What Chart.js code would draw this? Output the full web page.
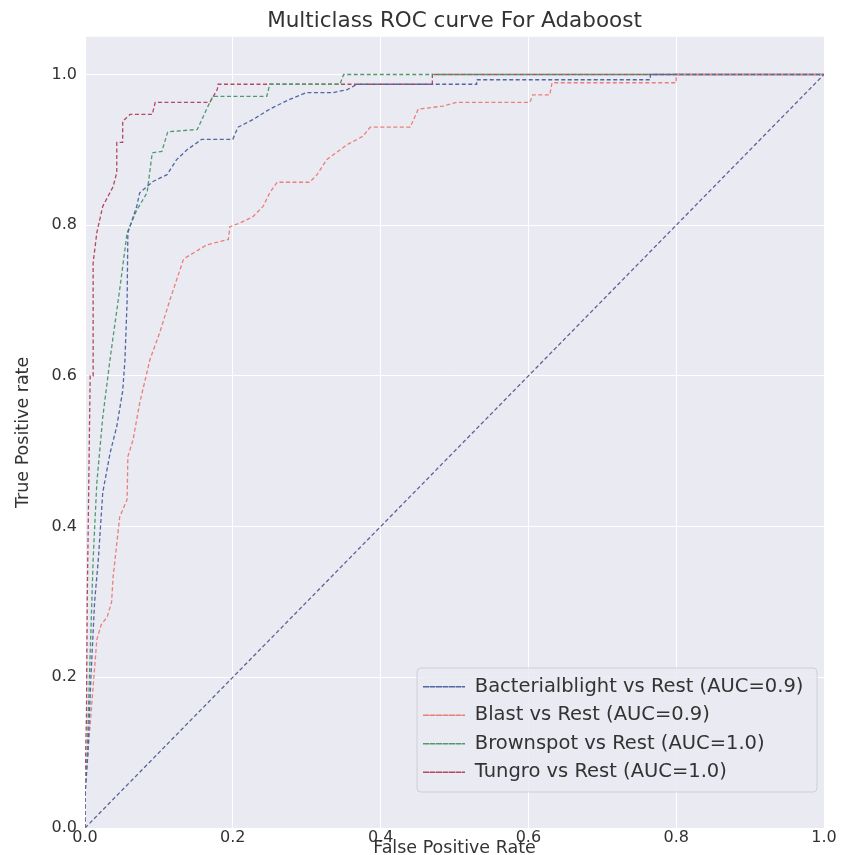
<!DOCTYPE html>
<html><head><meta charset="utf-8">
<script src="https://cdn.jsdelivr.net/npm/chart.js@4.4.0/dist/chart.umd.min.js"></script>
<style>html,body{margin:0;padding:0;background:#fff;}</style>
</head><body>
<canvas id="c" width="844" height="855"></canvas>
<script>
// ---- data ----
const categories = ['Bacterialblight', 'Blast', 'Brownspot', 'Tungro'];
const aucValues = ['0.9', '0.9', '1.0', '1.0'];
const xTicks = [0, 0.2, 0.4, 0.6, 0.8, 1.0];
const yTicks = [0, 0.2, 0.4, 0.6, 0.8, 1.0];

const fprBact = [0, 0, 0.004, 0.008, 0.013, 0.018, 0.024, 0.034, 0.043, 0.051, 0.054, 0.057, 0.058, 0.070, 0.074, 0.092, 0.111, 0.124, 0.138, 0.158, 0.200, 0.207, 0.227, 0.250, 0.277, 0.300, 0.336, 0.355, 0.368, 0.530, 0.530, 0.765, 0.765, 1];
const tprBact = [0, 0.04, 0.10, 0.20, 0.30, 0.356, 0.445, 0.498, 0.533, 0.580, 0.620, 0.700, 0.790, 0.825, 0.843, 0.858, 0.867, 0.887, 0.900, 0.914, 0.914, 0.930, 0.940, 0.954, 0.967, 0.976, 0.976, 0.980, 0.987, 0.987, 0.993, 0.993, 1, 1];

const fprBlast = [0, 0, 0.004, 0.008, 0.012, 0.016, 0.022, 0.030, 0.036, 0.038, 0.047, 0.057, 0.058, 0.065, 0.074, 0.088, 0.101, 0.115, 0.133, 0.138, 0.165, 0.194, 0.196, 0.210, 0.227, 0.241, 0.250, 0.260, 0.304, 0.314, 0.327, 0.355, 0.376, 0.386, 0.440, 0.451, 0.484, 0.503, 0.602, 0.606, 0.629, 0.632, 0.800, 0.800, 1];
const tprBlast = [0, 0.05, 0.10, 0.15, 0.20, 0.25, 0.27, 0.28, 0.30, 0.333, 0.413, 0.436, 0.493, 0.515, 0.564, 0.622, 0.657, 0.701, 0.754, 0.758, 0.774, 0.781, 0.798, 0.803, 0.811, 0.825, 0.843, 0.857, 0.857, 0.867, 0.887, 0.907, 0.918, 0.930, 0.930, 0.954, 0.958, 0.963, 0.963, 0.973, 0.973, 0.989, 0.989, 1, 1];

const fprBrown = [0, 0, 0.003, 0.006, 0.011, 0.016, 0.024, 0.034, 0.047, 0.057, 0.070, 0.084, 0.091, 0.104, 0.112, 0.152, 0.166, 0.173, 0.246, 0.250, 0.345, 0.350, 1];
const tprBrown = [0, 0.05, 0.10, 0.20, 0.356, 0.458, 0.545, 0.623, 0.715, 0.790, 0.820, 0.843, 0.896, 0.898, 0.924, 0.927, 0.957, 0.971, 0.971, 0.987, 0.987, 1, 1];

const fprTung = [0, 0, 0.002, 0.003, 0.005, 0.007, 0.011, 0.011, 0.016, 0.024, 0.038, 0.043, 0.043, 0.051, 0.051, 0.061, 0.091, 0.095, 0.169, 0.179, 0.180, 0.470, 0.470, 1];
const tprTung = [0, 0.06, 0.15, 0.30, 0.45, 0.60, 0.60, 0.75, 0.79, 0.825, 0.851, 0.870, 0.910, 0.910, 0.938, 0.947, 0.947, 0.963, 0.963, 0.980, 0.987, 0.987, 1, 1];

const diagX = [0, 1];
const diagY = [0, 1];

// ---- build ----
const toPts = (xs, ys) => xs.map((x, i) => ({x: x, y: ys[i]}));
const series = [[fprBact, tprBact], [fprBlast, tprBlast], [fprBrown, tprBrown], [fprTung, tprTung]];
const colors = ['#4f67a3', '#ea7f7a', '#4f9a6c', '#b3485f'];

Chart.defaults.font.family = "'DejaVu Sans', sans-serif";
Chart.defaults.color = '#333333';

const datasets = categories.map((c, i) => ({
  label: c + ' vs Rest (AUC=' + aucValues[i] + ')',
  data: toPts(series[i][0], series[i][1]),
  borderColor: colors[i],
  backgroundColor: 'rgba(0,0,0,0)',
  borderWidth: 1.3,
  borderDash: [4, 2.5],
  pointRadius: 0,
  tension: 0,
  fill: false
}));
datasets.push({
  label: 'chance',
  data: toPts(diagX, diagY),
  borderColor: '#5f6394',
  backgroundColor: 'rgba(0,0,0,0)',
  borderWidth: 1.3,
  borderDash: [4, 2.5],
  pointRadius: 0,
  fill: false
});

const bgPlugin = {
  id: 'bg',
  beforeDraw(chart) {
    const {ctx, chartArea: a} = chart;
    ctx.save();
    ctx.fillStyle = '#ffffff';
    ctx.fillRect(0, 0, chart.width, chart.height);
    ctx.fillStyle = '#eaeaf2';
    ctx.fillRect(a.left, a.top, a.right - a.left, a.bottom - a.top);
    ctx.restore();
  }
};

const FRAME = {left: 417, top: 668, width: 400, height: 124};
const LEGPOS = {left: 414, top: 668, width: 420};
const legendPlace = {
  id: 'legendPlace',
  beforeLayout(chart) {
    const lg = chart.legend;
    if (lg) {
      lg._layers = () => [{z: 1, draw: (ca) => lg.draw(ca)}];
    }
  },
  afterLayout(chart) {
    const lg = chart.legend;
    if (!lg) return;
    lg.left = LEGPOS.left; lg.top = LEGPOS.top;
    lg.width = LEGPOS.width; lg.height = 220;
    lg.right = LEGPOS.left + LEGPOS.width; lg.bottom = LEGPOS.top + 220;
  },
  afterDatasetsDraw(chart) {
    const ctx = chart.ctx;
    ctx.save();
    const x = FRAME.left, y = FRAME.top, w = FRAME.width, h = FRAME.height, r = 4;
    ctx.beginPath();
    ctx.moveTo(x + r, y);
    ctx.arcTo(x + w, y, x + w, y + h, r);
    ctx.arcTo(x + w, y + h, x, y + h, r);
    ctx.arcTo(x, y + h, x, y, r);
    ctx.arcTo(x, y, x + w, y, r);
    ctx.closePath();
    ctx.fillStyle = 'rgba(234,234,242,0.85)';
    ctx.fill();
    ctx.strokeStyle = 'rgba(204,204,212,0.9)';
    ctx.lineWidth = 1;
    ctx.stroke();
    ctx.restore();
  }
};

new Chart(document.getElementById('c'), {
  type: 'line',
  data: {datasets: datasets},
  plugins: [bgPlugin, legendPlace],
  options: {
    responsive: false,
    animation: false,
    layout: {padding: {left: 0, right: 20, top: 0, bottom: 0}},
    plugins: {
      title: {
        display: true,
        text: 'Multiclass ROC curve For Adaboost',
        fullSize: false,
        font: {size: 21.5, weight: 'normal'},
        color: '#333333',
        padding: {top: 9, bottom: 2}
      },
      legend: {
        display: true,
        position: 'chartArea',
        align: 'start',
        labels: {
          filter: (item) => item.text !== 'chance',
          usePointStyle: false,
          boxWidth: 42,
          boxHeight: 0,
          font: {size: 19.5},
          color: '#333333',
          padding: 9
        }
      },
      tooltip: {enabled: false}
    },
    scales: {
      x: {
        type: 'linear',
        min: 0, max: 1,
        afterBuildTicks: (s) => { s.ticks = xTicks.map(v => ({value: v})); },
        afterFit: (s) => { s.height = 27; },
        grid: {color: '#ffffff', lineWidth: 1, drawTicks: false},
        border: {display: false},
        ticks: {padding: 0, font: {size: 16}, color: '#333333', callback: (v) => v.toFixed(1)},
        title: {display: true, text: 'False Positive Rate', font: {size: 17.5}, color: '#333333', padding: {top: 0, bottom: -4}}
      },
      y: {
        type: 'linear',
        min: 0, max: 1.05,
        afterBuildTicks: (s) => { s.ticks = yTicks.map(v => ({value: v})); },
        afterFit: (s) => { s.width = 85; },
        grid: {color: '#ffffff', lineWidth: 1, drawTicks: false},
        border: {display: false},
        ticks: {padding: 8, font: {size: 16}, color: '#333333', callback: (v) => v.toFixed(1)},
        title: {display: true, text: 'True Positive rate', font: {size: 17.5}, color: '#333333', padding: {top: 13, bottom: 0}}
      }
    }
  }
});
</script>
</body></html>
